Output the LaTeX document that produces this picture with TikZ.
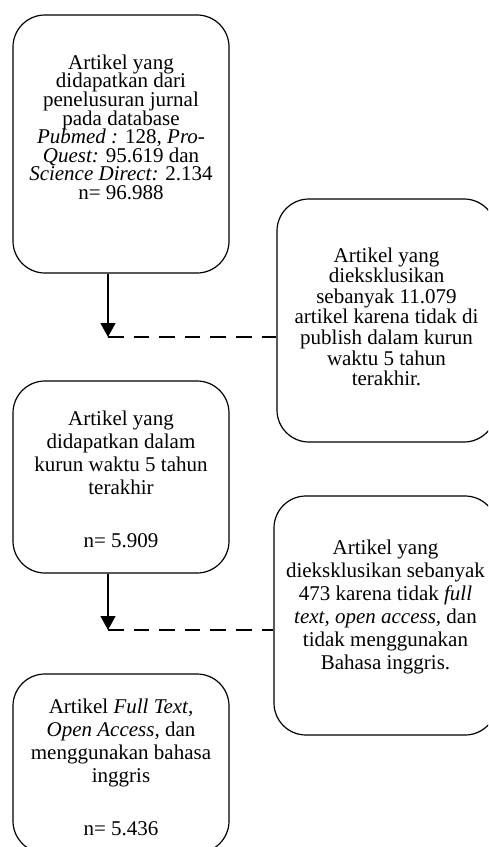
\documentclass[tikz,border=0pt]{standalone}
\usepackage{fontspec}
\setmainfont{Liberation Serif}
\usetikzlibrary{arrows.meta}
\tikzstyle{stage}=[draw, rounded corners=16pt, inner sep=0pt, line width=0.6pt]
\tikzstyle{fontdense}=[font={\fontsize{10.5}{9.3}\selectfont}]
\tikzstyle{fontmid}=[font={\fontsize{10.5}{10.3}\selectfont}]
\tikzstyle{fontwide}=[font={\fontsize{10.5}{11.5}\selectfont}]
\tikzstyle{arrow}=[line width=0.6pt, -{Triangle[width=7.5pt,length=7pt]}]
\tikzstyle{exclusion}=[line width=0.6pt, dash pattern=on 7.8pt off 5pt]
\newcommand{\stagetext}[4]{\parbox[c][#2][t]{#1}{\lineskiplimit=-\maxdimen\centering\vspace*{#3}#4}}

\begin{document}
\begin{tikzpicture}[x=0.5pt, y=-0.5pt]
  \useasboundingbox (0,0) rectangle (488,847);
  \clip (0,0) rectangle (488,847);

  \node[stage, fontdense] (found) at (121,144) {\stagetext{108pt}{129pt}{19.9pt}{Artikel yang\\
    didapatkan dari\\ penelusuran jurnal\\ pada database\\
    \textit{Pubmed :} 128, \textit{Pro-}\\ \textit{Quest:} 95.619 dan\\
    \textit{Science Direct:} 2.134\\ n= 96.988}};
  \node[stage, fontwide] (recent) at (121,477) {\stagetext{108pt}{96pt}{14.8pt}{Artikel yang\\
    didapatkan dalam\\ kurun waktu 5 tahun\\ terakhir\\[15pt] n= 5.909}};
  \node[stage, fontwide] (final) at (121,763.5) {\stagetext{108pt}{89.5pt}{12.3pt}{Artikel \textit{Full Text,}\\
    \textit{Open Access,} dan\\ menggunakan bahasa\\ inggris\\[15pt] n= 5.436}};
  \node[stage, fontmid] (excl1) at (386.5,320.5) {\stagetext{109.5pt}{121.5pt}{24.3pt}{Artikel yang\\
    dieksklusikan\\ sebanyak 11.079\\ artikel karena tidak di\\ publish dalam kurun\\
    waktu 5 tahun\\ terakhir.}};
  \node[stage, fontwide] (excl2) at (385.5,615.5) {\stagetext{111.5pt}{119.5pt}{21.9pt}{Artikel yang\\
    dieksklusikan sebanyak\\ 473 karena tidak \textit{full}\\ \textit{text, open access,} dan\\
    tidak menggunakan\\ Bahasa inggris.}};

  \coordinate (join1) at (108,337);
  \coordinate (join2) at (108,630);

  \draw[arrow] (found.south -| join1) -- (join1);
  \draw[exclusion] (join1) -- (excl1.west |- join1);
  \draw[arrow] (recent.south -| join2) -- (join2);
  \draw[exclusion] (join2) -- (excl2.west |- join2);
\end{tikzpicture}
\end{document}
